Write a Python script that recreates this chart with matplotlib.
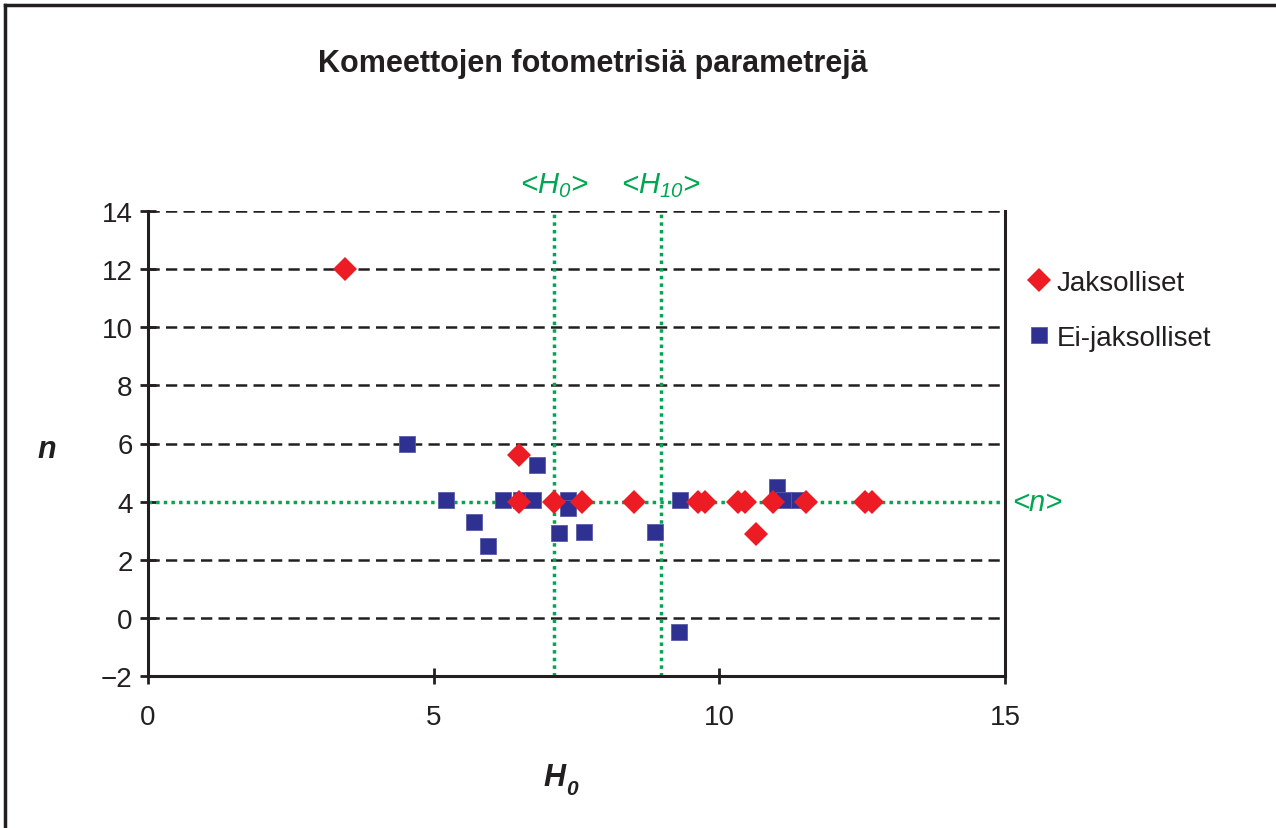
import matplotlib
matplotlib.use("Agg")
import matplotlib.pyplot as plt
from matplotlib.lines import Line2D

plt.rcParams['font.family'] = ['Liberation Sans', 'DejaVu Sans']
plt.rcParams['mathtext.fontset'] = 'custom'
plt.rcParams['mathtext.it'] = 'Liberation Sans:italic'
plt.rcParams['mathtext.rm'] = 'Liberation Sans:italic'
plt.rcParams['mathtext.bf'] = 'Liberation Sans:bold:italic'

# Data
periodic_h0 = [3.45, 6.5, 6.5, 7.1, 7.6, 8.5, 9.63, 9.75, 10.33, 10.45, 10.64, 10.94, 11.52, 12.55, 12.67]
periodic_n = [12.0, 5.6, 4.0, 4.0, 4.0, 4.0, 4.0, 4.0, 4.0, 4.0, 2.9, 4.0, 4.0, 4.0, 4.0]
nonperiodic_h0 = [4.53, 5.22, 5.71, 5.95, 6.21, 6.53, 6.73, 6.81, 7.35, 7.35, 7.2, 7.63, 8.87, 9.31, 9.3, 11.01, 11.13, 11.4]
nonperiodic_n = [6.0, 4.05, 3.3, 2.48, 4.05, 4.05, 4.05, 5.26, 4.05, 3.78, 2.92, 2.95, 2.95, 4.05, -0.5, 4.5, 4.05, 4.05]
mean_h0 = 7.1
mean_h10 = 8.98
mean_n = 4.0
x_ticks = [0, 5, 10, 15]
y_ticks = [-2, 0, 2, 4, 6, 8, 10, 12, 14]

RED = '#ED1C24'
BLUE = '#2E3192'
GREEN = '#00A651'
DARK = '#231F20'

fig = plt.figure(figsize=(12.76, 8.29), dpi=100)
ax = fig.add_axes([148/1276, 1-677/829, (1005-148)/1276, (677-212)/829])

ax.set_xlim(0, 15)
ax.set_ylim(-2, 14)

for yv in y_ticks[1:]:
    if yv == mean_n:
        continue
    ax.axhline(yv, color=DARK, lw=1.8, ls=(0, (4.5, 2.5)), zorder=1)

dot = (0, (1, 1.2))
ax.axvline(mean_h0, color=GREEN, lw=2.5, ls=dot, zorder=2)
ax.axvline(mean_h10, color=GREEN, lw=2.5, ls=dot, zorder=2)
ax.axhline(mean_n, color=GREEN, lw=2.5, ls=dot, zorder=2)

ax.plot(nonperiodic_h0, nonperiodic_n, 's', color=BLUE, ms=12, mec='#5A5DA8', mew=0.6,
        ls='none', zorder=3, label='Ei-jaksolliset')
ax.plot(periodic_h0, periodic_n, 'D', color=RED, ms=12.5, mec=RED, mew=0,
        ls='none', zorder=4, label='Jaksolliset')

for side in ['left', 'bottom', 'right']:
    ax.spines[side].set_color(DARK)
    ax.spines[side].set_linewidth(2.2)
ax.spines['top'].set_visible(False)

ax.set_xticks(x_ticks)
ax.set_yticks(y_ticks)
ax.set_yticklabels(['\u22122' if v == -2 else str(v) for v in y_ticks])
ax.tick_params(axis='both', direction='inout', length=12, width=2, color=DARK,
               labelsize=20, labelcolor=DARK)
ax.tick_params(axis='x', pad=14)
ax.tick_params(axis='y', pad=5)

# Axis labels
fig.text(47/1276, 1-450/829, 'n', fontsize=22, fontweight='bold', fontstyle='italic',
         ha='center', va='center', color=DARK)
fig.text(565/1276, 1-778/829, 'H', fontsize=22,
         fontweight='bold', fontstyle='italic', ha='right', va='center', color=DARK)
fig.text(566/1276, 1-790/829, '0', fontsize=15, fontweight='bold', fontstyle='italic',
         ha='left', va='center', color=DARK)

fig.text(593/1276, 1-64/829, 'Komeettojen fotometrisiä parametrejä', fontsize=22,
         fontweight='bold', ha='center', va='center', color=DARK)

# Green annotations
ax.text(mean_h0, 14.4, r'<$H_{0}$>', color=GREEN, fontsize=21, fontstyle='italic',
        ha='center', va='bottom')
ax.text(mean_h10, 14.4, r'<$H_{10}$>', color=GREEN, fontsize=21, fontstyle='italic',
        ha='center', va='bottom')
ax.text(15.12, mean_n, '<n>', color=GREEN, fontsize=21, fontstyle='italic',
        ha='left', va='center')

handles, labels = ax.get_legend_handles_labels()
leg = fig.legend(handles[::-1], labels[::-1], loc='upper left',
                 bbox_to_anchor=(1000/1276, 1-246/829), frameon=False,
                 fontsize=20, labelspacing=1.05, handletextpad=0.15, handlelength=1.0,
                 labelcolor=DARK)

# Outer frame (left and top)
fig.add_artist(Line2D([5/1276, 5/1276], [0, 1-6/829], color=DARK, lw=2.5,
                      transform=fig.transFigure))
fig.add_artist(Line2D([5/1276, 1], [1-6/829, 1-6/829], color=DARK, lw=2.5,
                      transform=fig.transFigure))

fig.savefig('out.png', dpi=100)
